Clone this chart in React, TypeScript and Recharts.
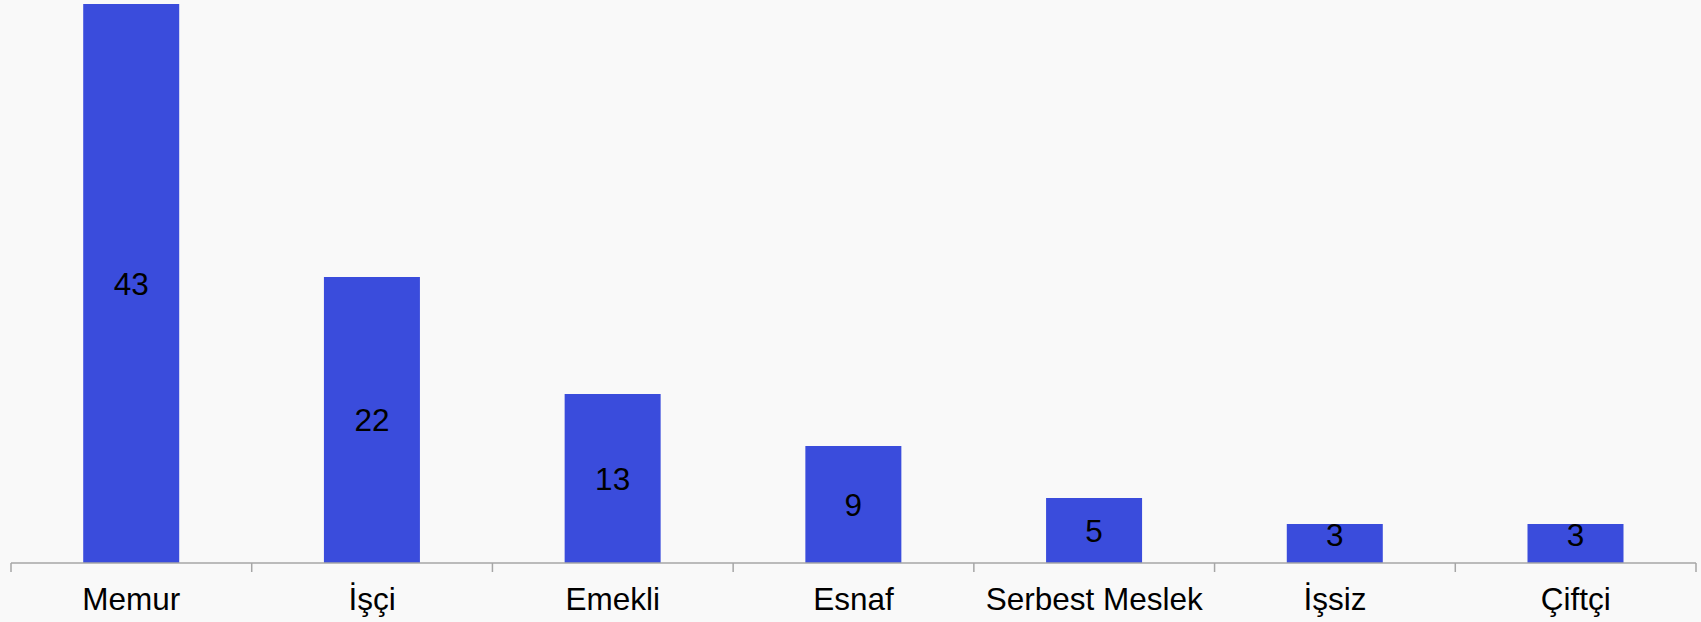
import { BarChart, Bar, XAxis, YAxis, LabelList } from 'recharts'

const categories = ['Memur', 'İşçi', 'Emekli', 'Esnaf', 'Serbest Meslek', 'İşsiz', 'Çiftçi']
const counts = [43, 22, 13, 9, 5, 3, 3]

const data = categories.map((name, i) => ({ name, value: counts[i] }))

const WIDTH = 1701
const HEIGHT = 622
const MARGIN = { top: 4, right: 5, left: 11, bottom: 0 }
const TICK_SIZE = 9
const TICK_MARGIN = 16
const FONT_SIZE = 31.5
const FONT = '"Liberation Sans", Arial, sans-serif'
const AXIS_COLOR = '#a6a6a6'

const band = (WIDTH - MARGIN.left - MARGIN.right) / categories.length

function CategoryTick(props: any) {
  const { x, y, payload, index } = props
  const axisY = y - TICK_SIZE - TICK_MARGIN
  const left = x - band / 2
  return (
    <g>
      <line x1={left} y1={axisY} x2={left} y2={axisY + TICK_SIZE} stroke={AXIS_COLOR} strokeWidth={1.5} />
      {index === categories.length - 1 && (
        <line x1={x + band / 2} y1={axisY} x2={x + band / 2} y2={axisY + TICK_SIZE} stroke={AXIS_COLOR} strokeWidth={1.5} />
      )}
      <text x={x} y={y} dy="0.71em" textAnchor="middle" fill="#000" fontSize={FONT_SIZE} fontFamily={FONT}>
        {payload.value}
      </text>
    </g>
  )
}

// centred in the bar, but kept clear of the axis on short bars
function ValueLabel(props: any) {
  const { viewBox, value } = props
  const { x, y, width, height } = viewBox
  const cy = Math.min(y + height / 2, y + height - 28)
  return (
    <text x={x + width / 2} y={cy} dy="0.355em" textAnchor="middle" fill="#000" fontSize={FONT_SIZE} fontFamily={FONT}>
      {value}
    </text>
  )
}

export default function App() {
  return (
    <div style={{ position: 'absolute', left: 0, top: 0, width: WIDTH, height: HEIGHT, background: '#f9f9f9' }}>
      <BarChart width={WIDTH} height={HEIGHT} data={data} margin={MARGIN} barCategoryGap="30%">
        <XAxis
          dataKey="name"
          height={HEIGHT - 563}
          interval={0}
          tickLine={false}
          tickSize={TICK_SIZE}
          tickMargin={TICK_MARGIN}
          axisLine={{ stroke: AXIS_COLOR, strokeWidth: 1.5 }}
          tick={<CategoryTick />}
        />
        <YAxis hide domain={[0, 43]} />
        <Bar dataKey="value" fill="#3a4cdc" isAnimationActive={false}>
          <LabelList dataKey="value" content={<ValueLabel />} />
        </Bar>
      </BarChart>
    </div>
  )
}
